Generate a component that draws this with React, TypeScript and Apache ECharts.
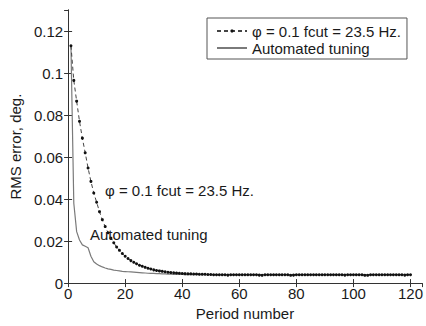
import React, { useEffect, useRef } from "react";
import * as echarts from "echarts";

const periods = [
  1, 2, 3, 4, 5, 6, 7, 8, 9, 10, 11, 12, 13, 14, 15, 16, 17, 18, 19, 20,
  21, 22, 23, 24, 25, 26, 27, 28, 29, 30, 31, 32, 33, 34, 35, 36, 37, 38, 39, 40,
  41, 42, 43, 44, 45, 46, 47, 48, 49, 50, 51, 52, 53, 54, 55, 56, 57, 58, 59, 60,
  61, 62, 63, 64, 65, 66, 67, 68, 69, 70, 71, 72, 73, 74, 75, 76, 77, 78, 79, 80,
  81, 82, 83, 84, 85, 86, 87, 88, 89, 90, 91, 92, 93, 94, 95, 96, 97, 98, 99, 100,
  101, 102, 103, 104, 105, 106, 107, 108, 109, 110, 111, 112, 113, 114, 115, 116, 117, 118, 119, 120,
];

// phi = 0.1, fcut = 23.5 Hz (dashed with dots)
const fixedFilterRms = [
  0.113, 0.0965, 0.0866, 0.077, 0.069, 0.062, 0.0548, 0.0484, 0.0429, 0.0385,
  0.034, 0.0302, 0.0269, 0.024, 0.0214, 0.0192, 0.0172, 0.0156, 0.0141, 0.0128,
  0.0117, 0.0107, 0.0099, 0.0092, 0.0085, 0.008, 0.0075, 0.0071, 0.0067, 0.0063,
  0.006, 0.0058, 0.0056, 0.0054, 0.0052, 0.005, 0.0049, 0.0048, 0.0047, 0.0046,
  0.0045, 0.0044, 0.0044, 0.0043, 0.0043, 0.0042, 0.0042, 0.0042, 0.0041, 0.0041,
  0.004, 0.004, 0.004, 0.004, 0.004, 0.0038, 0.004, 0.004, 0.004, 0.004,
  0.004, 0.004, 0.004, 0.004, 0.004, 0.004, 0.0038, 0.0037, 0.004, 0.004,
  0.004, 0.004, 0.004, 0.004, 0.004, 0.004, 0.004, 0.0037, 0.0038, 0.004,
  0.004, 0.004, 0.004, 0.004, 0.004, 0.004, 0.004, 0.004, 0.004, 0.004,
  0.004, 0.004, 0.004, 0.004, 0.004, 0.004, 0.0038, 0.004, 0.004, 0.004,
  0.004, 0.004, 0.004, 0.0037, 0.0037, 0.004, 0.004, 0.004, 0.004, 0.004,
  0.004, 0.004, 0.004, 0.004, 0.004, 0.004, 0.004, 0.0038, 0.004, 0.004,
];

// Automated tuning (solid grey)
const automatedRms = [
  0.113, 0.038, 0.0245, 0.0205, 0.0182, 0.0175, 0.0168, 0.0128, 0.0102, 0.0091,
  0.0083, 0.0077, 0.0072, 0.0068, 0.0065, 0.0062, 0.006, 0.0058, 0.0056, 0.0055,
  0.0054, 0.0053, 0.0052, 0.0051, 0.005, 0.0049, 0.0048, 0.0047, 0.0046, 0.0046,
  0.0045, 0.0045, 0.0044, 0.0044, 0.0043, 0.0043, 0.0042, 0.0042, 0.0041, 0.0041,
  0.004, 0.004, 0.004, 0.004, 0.004, 0.004, 0.004, 0.004, 0.004, 0.004,
  0.004, 0.004, 0.004, 0.004, 0.004, 0.004, 0.004, 0.004, 0.004, 0.004,
  0.004, 0.004, 0.004, 0.004, 0.004, 0.004, 0.004, 0.004, 0.004, 0.004,
  0.004, 0.004, 0.004, 0.004, 0.004, 0.004, 0.004, 0.004, 0.004, 0.004,
  0.004, 0.004, 0.004, 0.004, 0.004, 0.004, 0.004, 0.004, 0.004, 0.004,
  0.004, 0.004, 0.004, 0.004, 0.004, 0.004, 0.004, 0.004, 0.004, 0.004,
  0.004, 0.004, 0.004, 0.004, 0.004, 0.004, 0.004, 0.004, 0.004, 0.004,
  0.004, 0.004, 0.004, 0.004, 0.004, 0.004, 0.004, 0.004, 0.004, 0.004,
];

const seriesNames = ["\u03c6 = 0.1 fcut = 23.5 Hz.", "Automated tuning"];
const annotationTexts = ["\u03c6 = 0.1 fcut = 23.5 Hz.", "Automated tuning"];

const FONT = "'Liberation Sans', Arial, Helvetica, sans-serif";
const INK = "#1a1a1a";

export default function App() {
  const ref = useRef<HTMLDivElement>(null);

  useEffect(() => {
    if (!ref.current) return;
    const chart = echarts.init(ref.current, null, { renderer: "svg" });

    const dashedData = periods.map((p, i) => [p, fixedFilterRms[i]]);
    const solidData = periods.map((p, i) => [p, automatedRms[i]]);

    const axisLine = { show: true, lineStyle: { color: "#333", width: 1 } };
    const tickStyle = { show: true, inside: true, length: 4, lineStyle: { color: "#333" } };
    const labelStyle = { color: INK, fontFamily: FONT, fontSize: 15 };

    chart.setOption({
      animation: false,
      backgroundColor: "#fff",
      grid: { left: 68, top: 10, right: 4, bottom: 39, containLabel: false },
      xAxis: [
        {
          type: "value",
          min: 0,
          max: 124,
          interval: 20,
          position: "bottom",
          name: "Period number",
          nameLocation: "middle",
          nameGap: 22,
          nameTextStyle: { ...labelStyle },
          axisLine,
          axisTick: tickStyle,
          axisLabel: { ...labelStyle, margin: 3, showMaxLabel: false },
          splitLine: { show: false },
        },
        {
          type: "value",
          min: 0,
          max: 124,
          interval: 20,
          position: "top",
          axisLine,
          axisTick: tickStyle,
          axisLabel: { show: false },
          splitLine: { show: false },
        },
      ],
      yAxis: [
        {
          type: "value",
          min: 0,
          max: 0.13,
          interval: 0.02,
          position: "left",
          name: "RMS error, deg.",
          nameLocation: "middle",
          nameGap: 41,
          nameTextStyle: { ...labelStyle },
          axisLine,
          axisTick: tickStyle,
          axisLabel: { ...labelStyle, margin: 5, showMaxLabel: false },
          splitLine: { show: false },
        },
        {
          type: "value",
          min: 0,
          max: 0.13,
          interval: 0.02,
          position: "right",
          axisLine,
          axisTick: tickStyle,
          axisLabel: { show: false },
          splitLine: { show: false },
        },
      ],
      legend: {
        orient: "vertical",
        left: 207,
        top: 18,
        padding: [5, 6, 3, 9],
        itemGap: 1,
        itemWidth: 30,
        itemHeight: 4,
        backgroundColor: "#fff",
        borderColor: "#555",
        borderWidth: 1,
        borderRadius: 0,
        textStyle: { ...labelStyle, lineHeight: 16 },
        data: [
          { name: seriesNames[0] },
          { name: seriesNames[1], itemStyle: { opacity: 0 } },
        ],
      },
      series: [
        {
          name: seriesNames[1],
          type: "line",
          data: solidData,
          showSymbol: false,
          symbol: "none",
          lineStyle: { color: "#7a7a7a", width: 1.2, type: "solid" },
          itemStyle: { color: "#7a7a7a" },
          z: 2,
        },
        {
          name: seriesNames[0],
          type: "line",
          data: dashedData,
          symbol: "circle",
          symbolSize: 3,
          showSymbol: true,
          lineStyle: { color: "#444", width: 1, type: [4, 3] },
          itemStyle: { color: "#111" },
          z: 3,
        },
      ],
      graphic: [
        {
          type: "text",
          left: 105,
          top: 183,
          style: { text: annotationTexts[0], fill: INK, font: `15px ${FONT}` },
          z: 10,
        },
        {
          type: "text",
          left: 90,
          top: 227,
          style: { text: annotationTexts[1], fill: INK, font: `15px ${FONT}` },
          z: 10,
        },
      ],
    });

    return () => chart.dispose();
  }, []);

  return (
    <div
      ref={ref}
      style={{ position: "fixed", left: 0, top: 0, width: 426, height: 326, background: "#fff" }}
    />
  );
}
